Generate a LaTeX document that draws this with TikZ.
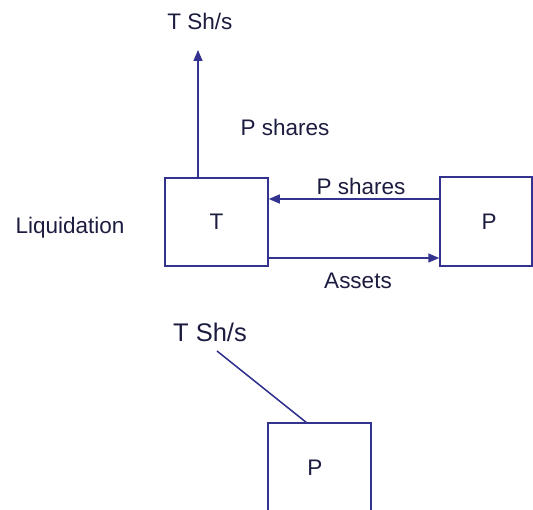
\documentclass[tikz,border=0pt]{standalone}
\usepackage{fontspec}
\setmainfont{Liberation Sans}
\usetikzlibrary{arrows.meta}
\definecolor{ln}{HTML}{33338F}
\definecolor{tx}{HTML}{1C1C40}
\tikzset{
  lbl/.style={text=tx, font=\fontsize{22.5}{27}\selectfont, inner sep=0pt},
  biglbl/.style={text=tx, font=\fontsize{25.5}{30}\selectfont, inner sep=0pt},
  boxx/.style={draw=ln, line width=1.5pt, inner sep=0pt},
  conn/.style={draw=ln, line width=1.5pt},
  arr/.style={conn, -{Triangle[length=11pt,width=9pt]}}
}
\begin{document}
\begin{tikzpicture}[x=1pt,y=-1pt]
\useasboundingbox (0,0) rectangle (533,510);
% upper boxes
\node[boxx, minimum width=103pt, minimum height=88pt] (T) at (216.5,222) {};
\node[lbl] (Tl) at (216.5,222) {T};
\node[boxx, minimum width=92pt, minimum height=89pt] (P) at (486,221.5) {};
\node[lbl] (Pl) at (489,222) {P};
\node[lbl] (liq) at (70,228) {Liquidation};
\node[lbl] (tsh) at (200,21) {T Sh/s};
\node[lbl] (psh1) at (285,127) {P shares};
\node[lbl] (psh2) at (361,186) {P shares};
\node[lbl] (ass) at (358,281) {Assets};
\coordinate (vtop) at (198,50);
\draw[arr] (T.north -| vtop) -- (vtop);
\draw[arr] (P.west |- 0,199) -- (T.east |- 0,199);
\draw[arr] (T.east |- 0,258) -- (P.west |- 0,258);
% lower part
\coordinate (bl) at (268,511);
\coordinate (tl) at (268,423);
\coordinate (tr) at (371,423);
\coordinate (br) at (371,511);
\draw[conn] (bl) -- (tl) -- (tr) -- (br);
\node[lbl] (P2) at (315,468) {P};
\node[biglbl] (tsh2) at (210,332) {T Sh/s};
\coordinate (ls) at (217,351);
\coordinate (le) at (307,423);
\draw[conn] (ls) -- (le);
\end{tikzpicture}
\end{document}
